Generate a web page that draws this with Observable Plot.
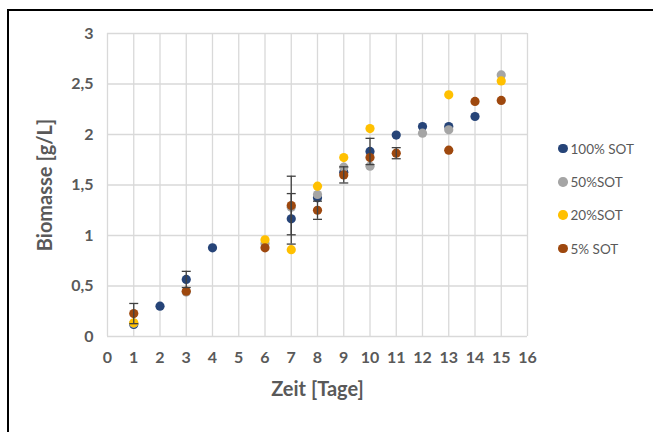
<!DOCTYPE html>
<html>
<head>
<meta charset="utf-8">
<script src="https://cdn.jsdelivr.net/npm/d3@7"></script>
<script src="https://cdn.jsdelivr.net/npm/@observablehq/plot@0.6"></script>
<style>
  html, body { margin: 0; padding: 0; background: #fff; width: 653px; height: 432px; overflow: hidden; }
  #wrap { position: relative; width: 653px; height: 432px; font-family: Lato, "Open Sans", sans-serif; }
  #border { position: absolute; left: 7px; top: 9px; width: 720px; height: 520px; border: 2px solid #000; box-sizing: border-box; }
  #chart { position: absolute; left: 0; top: 0; }
  #legend { position: absolute; left: 558px; top: 132px; color: #595959; font-size: 13.5px; }
  .item { display: flex; align-items: center; height: 33.3px; }
  .sw { width: 9.5px; height: 9.5px; border-radius: 50%; margin-right: 3px; }
</style>
</head>
<body>
<div id="wrap">
  <div id="border"></div>
  <div id="chart"></div>
  <div id="legend"></div>
</div>
<script>
const seriesNames = ["100% SOT", "50%SOT", "20%SOT", "5% SOT"];
const seriesColors = ["#264478", "#A5A5A5", "#FFC000", "#9E480E"];

const days100 = [1, 2, 3, 4, 7, 8, 9, 10, 11, 12, 13, 14];
const vals100 = [0.12, 0.30, 0.565, 0.878, 1.165, 1.373, 1.627, 1.832, 1.994, 2.079, 2.079, 2.178];

const days50 = [1, 3, 6, 7, 8, 9, 10, 12, 13, 15];
const vals50 = [0.13, 0.44, 0.92, 1.28, 1.406, 1.676, 1.686, 2.013, 2.046, 2.59];

const days20 = [1, 6, 7, 8, 9, 10, 13, 15];
const vals20 = [0.135, 0.957, 0.86, 1.488, 1.772, 2.059, 2.393, 2.53];

const days5 = [1, 3, 6, 7, 8, 9, 10, 11, 13, 14, 15];
const vals5 = [0.227, 0.449, 0.878, 1.297, 1.25, 1.60, 1.772, 1.815, 1.845, 2.327, 2.337];

// error bars: series, day, +/- size
const errSeries = ["5% SOT", "100% SOT", "100% SOT", "5% SOT", "5% SOT", "5% SOT", "100% SOT", "5% SOT"];
const errDays   = [1, 3, 7, 7, 8, 9, 10, 11];
const errSizes  = [0.10, 0.08, 0.25, 0.29, 0.09, 0.08, 0.13, 0.055];

const xTicks = d3.range(0, 17);
const yTicks = [0, 0.5, 1, 1.5, 2, 2.5, 3];

const allDays = [days100, days50, days20, days5];
const allVals = [vals100, vals50, vals20, vals5];
const points = [];
seriesNames.forEach((s, i) => {
  allDays[i].forEach((d, j) => points.push({series: s, day: d, value: allVals[i][j]}));
});
const errors = errSeries.map((s, i) => {
  const k = seriesNames.indexOf(s);
  const j = allDays[k].indexOf(errDays[i]);
  const c = allVals[k][j];
  return {series: s, day: errDays[i], lo: c - errSizes[i], hi: c + errSizes[i]};
});

const fmt = d => String(d).replace(".", ",");
const capSymbol = { draw(context, size) { const w = 4.5; context.moveTo(-w, 0); context.lineTo(w, 0); } };

const plot = Plot.plot({
  width: 653,
  height: 432,
  marginLeft: 107,
  marginRight: 126,
  marginTop: 33,
  marginBottom: 96,
  style: { fontFamily: "Lato, 'Open Sans', sans-serif", background: "transparent" },
  x: { domain: [0, 16] },
  y: { domain: [0, 3] },
  color: { domain: seriesNames, range: seriesColors },
  marks: [
    Plot.gridX(xTicks, { stroke: "#d9d9d9", strokeOpacity: 1, strokeWidth: 1.3 }),
    Plot.gridY(yTicks, { stroke: "#d9d9d9", strokeOpacity: 1, strokeWidth: 1.3 }),
    Plot.axisX(xTicks, { tickSize: 0, tickPadding: 15, tickFormat: fmt, label: null, fontSize: 16, fontWeight: "bold", fill: "#595959" }),
    Plot.axisY(yTicks, { tickSize: 0, tickPadding: 14, tickFormat: fmt, label: null, fontSize: 16, fontWeight: "bold", fill: "#595959" }),
    Plot.dot(points, { x: "day", y: "value", fill: "series", r: 4.6 }),
    Plot.ruleX(errors, { x: "day", y1: "lo", y2: "hi", stroke: "#404040", strokeWidth: 1.3 }),
    Plot.dot(errors, { x: "day", y: "lo", symbol: capSymbol, stroke: "#404040", strokeWidth: 1.3, fill: "none" }),
    Plot.dot(errors, { x: "day", y: "hi", symbol: capSymbol, stroke: "#404040", strokeWidth: 1.3, fill: "none" }),
    Plot.text(["Zeit [Tage]"], { frameAnchor: "bottom", dy: 59, fontSize: 20, fontWeight: "bold", fill: "#595959" }),
    Plot.text(["Biomasse [g/L]"], { frameAnchor: "left", textAnchor: "middle", dx: -62, rotate: -90, fontSize: 20, fontWeight: "bold", fill: "#595959" })
  ]
});
document.getElementById("chart").appendChild(plot);

const legend = document.getElementById("legend");
seriesNames.forEach((s, i) => {
  const item = document.createElement("div");
  item.className = "item";
  const sw = document.createElement("span");
  sw.className = "sw";
  sw.style.background = seriesColors[i];
  const t = document.createElement("span");
  t.textContent = s;
  item.appendChild(sw);
  item.appendChild(t);
  legend.appendChild(item);
});
</script>
</body>
</html>
